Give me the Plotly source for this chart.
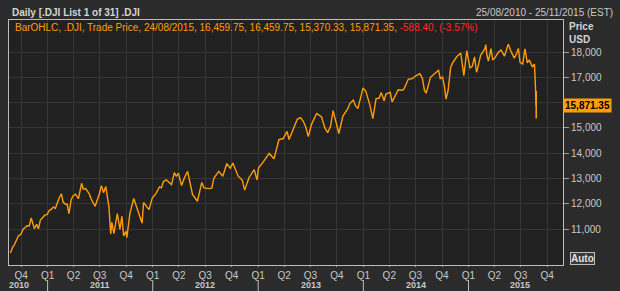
import plotly.graph_objects as go

dates = [
    "2010-08-25", "2010-09-01", "2010-09-08", "2010-09-15", "2010-09-22", "2010-09-30",
    "2010-10-08", "2010-10-15", "2010-10-22", "2010-10-29", "2010-11-05", "2010-11-16",
    "2010-11-24", "2010-11-30", "2010-12-07", "2010-12-15", "2010-12-22", "2010-12-31",
    "2011-01-05", "2011-01-14", "2011-01-21", "2011-01-28", "2011-02-04", "2011-02-10",
    "2011-02-18", "2011-02-24", "2011-03-04", "2011-03-10", "2011-03-16", "2011-03-24",
    "2011-03-31", "2011-04-08", "2011-04-18", "2011-04-29", "2011-05-05", "2011-05-13",
    "2011-05-25", "2011-06-03", "2011-06-15", "2011-06-22", "2011-06-30", "2011-07-07",
    "2011-07-14", "2011-07-22", "2011-07-29", "2011-08-02", "2011-08-08", "2011-08-12",
    "2011-08-19", "2011-08-31", "2011-09-09", "2011-09-16", "2011-09-22", "2011-09-30",
    "2011-10-03", "2011-10-14", "2011-10-27", "2011-11-09", "2011-11-25", "2011-11-30",
    "2011-12-19", "2011-12-30",
    "2012-01-13", "2012-01-24", "2012-01-31", "2012-02-07", "2012-02-17", "2012-03-06",
    "2012-03-16", "2012-03-23", "2012-03-30", "2012-04-10", "2012-04-20", "2012-05-01",
    "2012-05-09", "2012-05-18", "2012-06-04", "2012-06-19", "2012-06-27", "2012-07-12",
    "2012-07-24", "2012-07-31", "2012-08-17", "2012-08-31", "2012-09-14", "2012-09-26",
    "2012-10-05", "2012-10-23", "2012-11-07", "2012-11-15", "2012-11-30", "2012-12-07",
    "2012-12-18", "2012-12-28",
    "2013-01-02", "2013-01-18", "2013-02-08", "2013-02-25", "2013-03-04", "2013-03-14",
    "2013-03-29", "2013-04-11", "2013-04-18", "2013-05-03", "2013-05-17", "2013-05-28",
    "2013-06-07", "2013-06-14", "2013-06-24", "2013-07-05", "2013-07-23", "2013-08-09",
    "2013-08-20", "2013-08-30", "2013-09-09", "2013-09-18", "2013-09-27", "2013-10-08",
    "2013-10-22", "2013-11-08", "2013-11-15", "2013-11-27", "2013-12-04", "2013-12-13",
    "2013-12-31",
    "2014-01-10", "2014-01-24", "2014-02-03", "2014-02-14", "2014-02-25", "2014-03-04",
    "2014-03-14", "2014-03-20", "2014-04-04", "2014-04-11", "2014-04-25", "2014-05-02",
    "2014-05-16", "2014-05-22", "2014-06-06", "2014-06-20", "2014-07-03", "2014-07-16",
    "2014-07-25", "2014-08-01", "2014-08-07", "2014-08-22", "2014-09-05", "2014-09-19",
    "2014-09-25", "2014-10-03", "2014-10-09", "2014-10-15", "2014-10-22", "2014-10-31",
    "2014-11-07", "2014-11-21", "2014-12-05", "2014-12-10", "2014-12-16", "2014-12-26",
    "2015-01-06", "2015-01-14", "2015-01-22", "2015-01-29", "2015-02-02", "2015-02-12",
    "2015-02-27", "2015-03-02", "2015-03-06", "2015-03-11", "2015-03-20", "2015-03-26",
    "2015-04-02", "2015-04-14", "2015-04-24", "2015-05-06", "2015-05-19", "2015-05-29",
    "2015-06-09", "2015-06-17", "2015-06-23", "2015-06-29", "2015-07-08", "2015-07-16",
    "2015-07-24", "2015-07-31", "2015-08-04", "2015-08-11", "2015-08-14", "2015-08-18",
    "2015-08-20", "2015-08-21", "2015-08-24",
]
closes = [
    10060, 10270, 10390, 10570, 10740, 10790,
    11000, 11060, 11130, 11120, 11440, 11020,
    11190, 11010, 11360, 11460, 11550, 11580,
    11720, 11790, 11870, 11820, 12090, 12230,
    12390, 12070, 11980, 11980, 11610, 12170,
    12320, 12380, 12200, 12810, 12580, 12600,
    12400, 12150, 11900, 12110, 12410, 12720,
    12440, 12680, 12140, 11870, 10810, 11270,
    10820, 11610, 10990, 11510, 10730, 10910,
    10660, 11640, 12210, 11780, 11230, 12050,
    11770, 12220,
    12420, 12670, 12630, 12880, 12950, 12760,
    13230, 13080, 13210, 12720, 13030, 13280,
    12840, 12370, 12100, 12840, 12630, 12600,
    12620, 13010, 13280, 13090, 13590, 13410,
    13610, 13100, 12930, 12540, 13030, 13150,
    13350, 12940,
    13410, 13650, 13990, 13780, 14130, 14540,
    14580, 14860, 14540, 14970, 15350, 15410,
    15250, 15070, 14660, 15140, 15570, 15430,
    15010, 14810, 15060, 15680, 15260, 14780,
    15470, 15760, 15960, 16100, 15890, 15760,
    16580,
    16440, 15880, 15370, 16150, 16180, 16400,
    16070, 16330, 16410, 16030, 16360, 16510,
    16490, 16540, 16920, 16950, 17070, 17140,
    16960, 16490, 16370, 17000, 17140, 17280,
    16950, 17010, 16660, 16140, 16460, 17390,
    17570, 17810, 17960, 17530, 17070, 18050,
    17370, 17430, 17810, 17200, 17360, 17870,
    18130, 18290, 17860, 17640, 18130, 17680,
    17760, 17980, 18080, 17840, 18310, 18010,
    17760, 17940, 18140, 17590, 17520, 18120,
    17570, 17690, 17550, 17400, 17480, 17510,
    16990, 16460, 15871.35,
]

last_date = ["2015-08-24"]
last_open = [16459.75]
last_high = [16459.75]
last_low = [15370.33]
last_close = [15871.35]

ytick_vals = [11000, 12000, 13000, 14000, 15000, 16000, 17000, 18000]
ytick_text = ["11,000", "12,000", "13,000", "14,000", "15,000", "", "17,000", "18,000"]

quarter_dates = [
    "2010-10-01",
    "2011-01-01", "2011-04-01", "2011-07-01", "2011-10-01",
    "2012-01-01", "2012-04-01", "2012-07-01", "2012-10-01",
    "2013-01-01", "2013-04-01", "2013-07-01", "2013-10-01",
    "2014-01-01", "2014-04-01", "2014-07-01", "2014-10-01",
    "2015-01-01", "2015-04-01", "2015-07-01", "2015-10-01",
]
quarter_labels = [
    "Q4",
    "Q1", "Q2", "Q3", "Q4",
    "Q1", "Q2", "Q3", "Q4",
    "Q1", "Q2", "Q3", "Q4",
    "Q1", "Q2", "Q3", "Q4",
    "Q1", "Q2", "Q3", "Q4",
]
year_labels = ["2010", "2011", "2012", "2013", "2014", "2015"]
year_label_pos = ["2010-09-25", "2011-07-02", "2012-07-02", "2013-07-02", "2014-07-02", "2015-06-28"]
year_bounds = ["2011-01-01", "2012-01-01", "2013-01-01", "2014-01-01", "2015-01-01"]

x_range = ["2010-08-20", "2015-11-25"]
y_range = [9581, 19265]

ORANGE = "#ff9d0a"
TXT = "#c8c8c8"
FONT = "Liberation Sans"

fig = go.Figure()
fig.add_trace(go.Scatter(x=dates, y=closes, mode="lines",
                         line=dict(color=ORANGE, width=1.4), hoverinfo="skip"))
fig.add_trace(go.Ohlc(x=last_date, open=last_open, high=last_high, low=last_low,
                      close=last_close,
                      increasing=dict(line=dict(color=ORANGE, width=1.5)),
                      decreasing=dict(line=dict(color=ORANGE, width=1.5)),
                      tickwidth=0))

plot_h = 291 - 20 - 26

fig.update_layout(
    width=620, height=291,
    margin=dict(l=9, r=57, t=20, b=26),
    paper_bgcolor="#2b2b2b",
    plot_bgcolor="#212121",
    showlegend=False,
    font=dict(family=FONT, size=10, color=TXT),
    xaxis=dict(
        type="date", range=x_range, tickvals=quarter_dates, ticktext=quarter_labels,
        showgrid=True, gridcolor="#363636", gridwidth=1,
        showline=True, linecolor="#bdbdbd", linewidth=1, mirror=True,
        ticks="outside", ticklen=1, tickcolor="#9a9a9a",
        tickfont=dict(family=FONT, size=10, color=TXT),
        rangeslider=dict(visible=False), zeroline=False, fixedrange=True,
    ),
    yaxis=dict(
        side="right", range=y_range, tickvals=ytick_vals, ticktext=ytick_text,
        showgrid=True, gridcolor="#363636", gridwidth=1,
        showline=True, linecolor="#bdbdbd", linewidth=1, mirror=True,
        ticks="outside", ticklen=5, tickcolor="#9a9a9a",
        tickfont=dict(family=FONT, size=10, color=TXT),
        zeroline=False, fixedrange=True,
    ),
)

annotations = []
for lab, pos in zip(year_labels, year_label_pos):
    annotations.append(dict(x=pos, y=0, xref="x", yref="paper", yanchor="middle",
                            yshift=-20, text="<b>" + lab + "</b>", showarrow=False,
                            font=dict(family=FONT, size=9, color=TXT)))

shapes = []
for b in year_bounds:
    shapes.append(dict(type="line", xref="x", yref="paper", x0=b, x1=b,
                       y0=-15 / plot_h, y1=-26 / plot_h,
                       line=dict(color="#bdbdbd", width=1)))

annotations += [
    dict(x=0, y=1, xref="paper", yref="paper", xanchor="left", yanchor="middle",
         xshift=1, yshift=8, text="<b>Daily [.DJI List 1 of 31] .DJI</b>", showarrow=False,
         font=dict(family=FONT, size=10, color="#d4d4d4")),
    dict(x=1, y=1, xref="paper", yref="paper", xanchor="right", yanchor="middle",
         xshift=52, yshift=8, text="25/08/2010 - 25/11/2015 (EST)", showarrow=False,
         font=dict(family=FONT, size=10, color=TXT)),
    dict(x=0, y=1, xref="paper", yref="paper", xanchor="left", yanchor="middle",
         xshift=4, yshift=-7,
         text="BarOHLC, .DJI, Trade Price, 24/08/2015, 16,459.75, 16,459.75, 15,370.33, 15,871.35, "
              "<span style='color:#ff2a2a'>-588.40, (-3.57%)</span>",
         showarrow=False, font=dict(family=FONT, size=10, color=ORANGE)),
    dict(x=1, y=1, xref="paper", yref="paper", xanchor="left", yanchor="middle",
         xshift=4, yshift=-6, text="<b>Price</b>", showarrow=False,
         font=dict(family=FONT, size=10, color="#d4d4d4")),
    dict(x=1, y=1, xref="paper", yref="paper", xanchor="left", yanchor="middle",
         xshift=4, yshift=-19, text="<b>USD</b>", showarrow=False,
         font=dict(family=FONT, size=10, color="#d4d4d4")),
    dict(x=1, y=last_close[0], xref="paper", yref="y", xanchor="left", yanchor="middle",
         xshift=0, text="<b>15,871.35</b>", showarrow=False, bgcolor=ORANGE,
         borderpad=1, font=dict(family=FONT, size=10, color="#000000")),
    dict(x=1, y=0, xref="paper", yref="paper", xanchor="left", yanchor="middle",
         xshift=7, yshift=7, text="<b>Auto</b>", showarrow=False, bgcolor="#3a3a3a",
         bordercolor="#bdbdbd", borderwidth=1, borderpad=0,
         font=dict(family=FONT, size=10, color="#e0e0e0")),
]

fig.update_layout(annotations=annotations, shapes=shapes)
fig.write_html("out.html")
